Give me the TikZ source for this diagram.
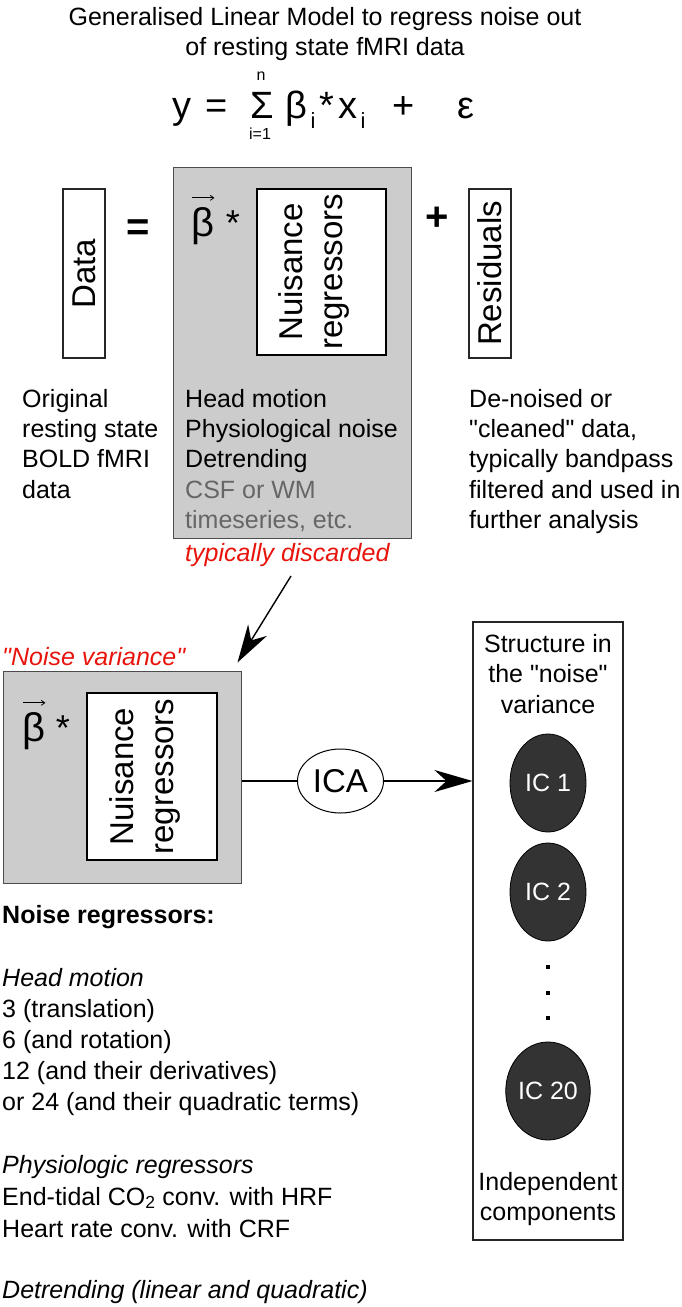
\documentclass[tikz,border=0pt]{standalone}
\usepackage{fontspec}
\setmainfont{Liberation Sans}
\usetikzlibrary{arrows.meta,shapes.geometric}

\definecolor{boxgray}{HTML}{CCCCCC}
\definecolor{softtext}{HTML}{666666}
\definecolor{noisered}{HTML}{E8140C}
\definecolor{icfill}{HTML}{333333}

\newcommand{\dq}{\textquotedbl}

\tikzset{
	every node/.style={inner sep=0pt},
	body/.style={font=\fontsize{25}{30.5}\selectfont, anchor=base west},
	centred/.style={font=\fontsize{25}{30.5}\selectfont, anchor=base},
	redtag/.style={body, font=\fontsize{25}{30.5}\selectfont\itshape, text=noisered},
	eqbig/.style={font=\fontsize{38}{40}\selectfont, anchor=base},
	eqsmall/.style={font=\fontsize{16}{18}\selectfont, anchor=base},
	eqsub/.style={font=\fontsize{22}{24}\selectfont, anchor=base},
	coef/.style={font=\fontsize{40}{40}\selectfont, anchor=base west},
	coefstar/.style={font=\fontsize{36}{36}\selectfont},
	vecarrow/.style={line width=0.8pt, -{Straight Barb[length=3.5pt, width=5pt]}},
	slimbox/.style={draw=black!85, line width=1.1pt, rotate=90, minimum width=169, minimum height=42, font=\fontsize{33}{40}\selectfont},
	greybox/.style={draw=black!70, line width=1pt, fill=boxgray},
	nuisbox/.style={draw=black, line width=2.4pt, fill=white, minimum width=129, minimum height=166},
	nuislbl/.style={rotate=90, align=center, font=\fontsize{33}{40}\selectfont},
	icnode/.style={ellipse, draw=black, line width=0.8pt, fill=icfill, text=white, minimum width=76, minimum height=98, font=\fontsize{25}{30}\selectfont},
	dotmark/.style={fill=black, minimum size=4.5},
	bigarrow/.style={line width=1.4pt, -{Stealth[length=38pt, width=22pt, inset=12pt]}}
}

\begin{document}
\begin{tikzpicture}[x=1pt, y=-1pt]
	\useasboundingbox (0,0) rectangle (681,1307);

	% title and model
	\node[centred] (title-1) at (325,25) {Generalised Linear Model to regress noise out};
	\node[centred] (title-2) at (325,55) {of resting state fMRI data};

	\node[eqbig] (eq-y) at (181.5,118) {y};
	\node[eqbig] (eq-is) at (217,118) {=};
	\node[eqbig] (eq-sum) at (262,118) {Σ};
	\node[eqsmall] (eq-n) at (261,80) {n};
	\node[eqsmall] (eq-from) at (260,139) {i=1};
	\node[eqbig] (eq-beta) at (296,118) {β};
	\node[eqsub] (eq-bi) at (313,128) {i};
	\node[eqbig] (eq-star) at (327,118) {*};
	\node[eqbig] (eq-x) at (348,118) {x};
	\node[eqsub] (eq-xi) at (363,128) {i};
	\node[eqbig] (eq-plus) at (404,118) {+};
	\node[eqbig] (eq-eps) at (466,118) {ε};

	% Data = beta * regressors + Residuals
	\node[slimbox] (data) at (84,273.5) {Data};
	\node[font=\fontsize{40}{40}\selectfont\bfseries] (equals) at (138,230) {=};

	\node[greybox, minimum width=238, minimum height=371] (glm) at (292,352.5) {};
	\node[coef] (glm-beta) at (191,236) {β};
	\draw[vecarrow] ([shift={(1,-9)}]glm-beta.north west) -- ([shift={(0,-9)}]glm-beta.north east);
	\node[coefstar] (glm-star) at (233,223) {*};
	\node[nuisbox] (nuis) at (321.5,272) {};
	\node[nuislbl] (nuis-lbl) at (314,272) {Nuisance\\regressors};

	\node[font=\fontsize{40}{40}\selectfont\bfseries] (plus) at (437,219) {+};
	\node[slimbox] (resid) at (490,273.5) {Residuals};

	\foreach \txt [count=\i from 0] in {Original, resting state, BOLD fMRI, data}
		\node[body] (orig-\i) at (22,407+30.4*\i) {\txt};
	\foreach \txt [count=\i from 0] in {Head motion, Physiological noise, Detrending}
		\node[body] (kind-\i) at (185,407+30.4*\i) {\txt};
	\foreach \txt [count=\i from 3] in {CSF or WM, {timeseries, etc.}}
		\node[body, text=softtext] (kind-\i) at (185,407+30.4*\i) {\txt};
	\foreach \txt [count=\i from 0] in {De-noised or, {\dq cleaned\dq{} data,}, typically bandpass, filtered and used in, further analysis}
		\node[body] (clean-\i) at (469,407+30.4*\i) {\txt};

	\node[redtag] (discard) at (185,561) {typically discarded};
	\coordinate (discard-tail) at (291,576);

	% noise variance and ICA
	\node[redtag] (noise-lbl) at (2,665) {\dq Noise variance\dq};
	\node[greybox, minimum width=238, minimum height=212] (noise) at (122,777) {};
	\node[coef] (noise-beta) at (22,741) {β};
	\draw[vecarrow] ([shift={(1,-9)}]noise-beta.north west) -- ([shift={(0,-9)}]noise-beta.north east);
	\node[coefstar] (noise-star) at (63,728) {*};
	\node[nuisbox, minimum width=130, minimum height=167] (nuis2) at (152,776.5) {};
	\node[nuislbl] (nuis2-lbl) at (145,776.5) {Nuisance\\regressors};

	\draw[bigarrow] (discard-tail) -- ([shift={(-4,-8)}]noise.north east);

	\node[ellipse, draw=black, line width=1pt, fill=white, minimum width=86, minimum height=64, font=\fontsize{33}{33}\selectfont] (ica) at (340.5,781) {ICA};
	\node[draw=black!85, line width=1.1pt, minimum width=150, minimum height=618] (struct) at (548,931) {};

	\draw[line width=1.4pt] (noise.east |- ica.west) -- (ica.west);
	\draw[bigarrow] (ica.east) -- (ica.east -| struct.west);

	\foreach \txt [count=\i from 0] in {Structure in, the \dq noise\dq, variance}
		\node[centred] (struct-\i) at (548,652+30.5*\i) {\txt};
	\node[icnode] (ic-1) at (548,783) {IC 1};
	\node[icnode] (ic-2) at (548,892) {IC 2};
	\foreach \y [count=\k] in {967,993,1018}
		\node[dotmark] (dot-\k) at (548,\y) {};
	\node[icnode] (ic-20) at (548,1091) {IC 20};
	\node[centred] (indep-1) at (548,1190) {Independent};
	\node[centred] (indep-2) at (548,1220) {components};

	% list of regressors
	\node[body, font=\fontsize{25}{30.5}\selectfont\bfseries] (reg-head) at (2,923) {Noise regressors:};
	\node[body, font=\fontsize{25}{30.5}\selectfont\itshape] (reg-motion) at (2,986) {Head motion};
	\foreach \txt [count=\i from 0] in {3 (translation), 6 (and rotation), 12 (and their derivatives), or 24 (and their quadratic terms)}
		\node[body] (motion-\i) at (2,1017+31.2*\i) {\txt};
	\node[body, font=\fontsize{25}{30.5}\selectfont\itshape] (reg-physio) at (2,1173) {Physiologic regressors};
	\node[body] (physio-0) at (2,1205) {End-tidal CO\textsubscript{2} conv. with HRF};
	\node[body] (physio-1) at (2,1237) {Heart rate conv. with CRF};
	\node[body, font=\fontsize{25}{30.5}\selectfont\itshape] (reg-trend) at (2,1298) {Detrending (linear and quadratic)};
\end{tikzpicture}
\end{document}
